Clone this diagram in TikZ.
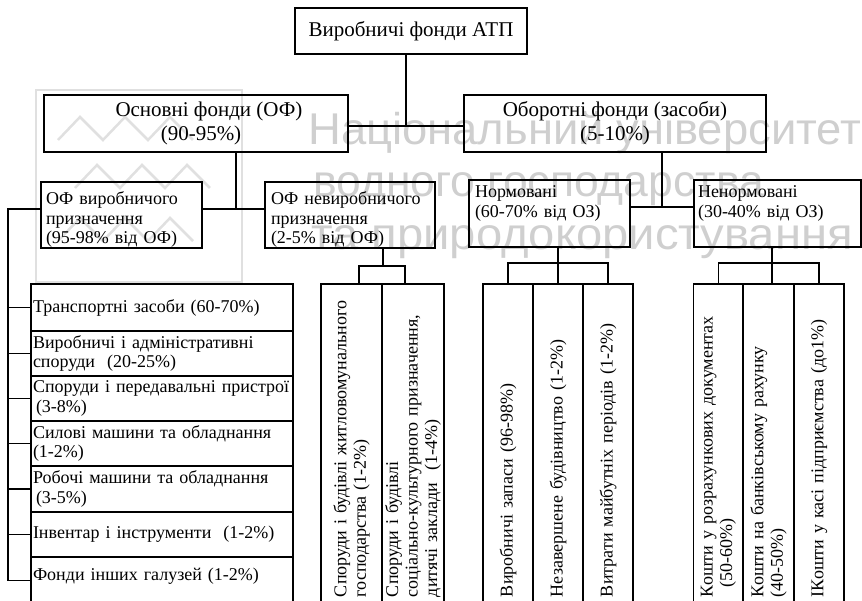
\documentclass[tikz,border=0pt]{standalone}
\usepackage{fontspec}
\setmainfont{Liberation Serif}
\newfontfamily\wmfont{Liberation Sans}
\usetikzlibrary{positioning}

\begin{document}
\begin{tikzpicture}[x=1pt, y=-1pt, semithick]
	\tikzstyle{box}=[draw, rectangle, line width=1.1pt, outer sep=0pt, inner sep=0pt]
	\tikzstyle{big}=[font=\fontsize{21}{24}\selectfont, align=center]
	\tikzstyle{small}=[font=\fontsize{18}{19.5}\selectfont, align=left]
	\tikzstyle{row}=[box, small, text width=258pt, inner xsep=2pt]
	\tikzstyle{col}=[box, small, rotate=90, text width=306pt, inner xsep=7pt]
	\tikzstyle{link}=[line width=1.8pt]
	\tikzstyle{wm}=[text=black!19, font=\wmfont\fontsize{44.5}{44.5}\selectfont, anchor=base west, inner sep=0pt, transform shape]
	\tikzstyle{wmline}=[draw=black!12, line width=2.5pt]
	\useasboundingbox (0,0) rectangle (862,601);

	% watermark
	\draw[wmline] (36,90) rectangle (242,282);
	\foreach \y/\x in {117/58, 165/75, 218/58}
		\draw[wmline] (\x,\y+23) -- (\x+22,\y) -- (\x+45,\y+23) -- (\x+67,\y) -- (\x+90,\y+23) -- (\x+112,\y) -- (\x+135,\y+23);
	\node[wm, xscale=1.02] (wm1) at (308,145) {Національний університет};
	\node[wm] (wm2) at (313,197) {водного господарства};
	\node[wm, xscale=1.06] (wm3) at (311,250) {та природокористування};

	\node[box, big, minimum width=232, minimum height=46, anchor=north west] (vf) at (295,8) {Виробничі фонди АТП};
	\node[box, big, minimum width=304, minimum height=57, anchor=north west] (of) at (44,95) {\hspace*{26pt}Основні фонди (ОФ)\\\hspace*{10pt}(90-95\%)};
	\node[box, big, minimum width=302, minimum height=57, anchor=north west] (obf) at (464,95) {Оборотні фонди (засоби)\\(5-10\%)};

	\node[box, small, text width=151pt, inner xsep=5pt, minimum height=66, text height=20pt, text depth=40pt, anchor=north west] (ofv) at (41,182) {ОФ виробничого\\призначення\\(95-98\% від ОФ)};
	\node[box, small, text width=158pt, inner xsep=6pt, minimum height=66, text height=20pt, text depth=40pt, anchor=north west] (ofn) at (265,182) {ОФ невиробничого\\призначення\\(2-5\% від ОФ)};
	\node[box, small, text width=149pt, inner xsep=6pt, minimum height=67, text height=12pt, text depth=43pt, anchor=north west] (norm) at (469,180) {Нормовані\\(60-70\% від ОЗ)};
	\node[box, small, text width=159pt, inner xsep=4pt, minimum height=67, text height=12pt, text depth=43pt, anchor=north west] (nenorm) at (694,180) {Ненормовані\\(30-40\% від ОЗ)};

	\node[row, minimum height=47, anchor=north west] (ts) at (31,284) {Транспортні засоби (60-70\%)};
	\node[row, minimum height=45, below=0pt of ts] (vas) {Виробничі і адміністративні\\споруди\ \ (20-25\%)};
	\node[row, minimum height=45, below=0pt of vas] (spp) {Споруди і передавальні пристрої\\\hspace*{3pt}(3-8\%)};
	\node[row, minimum height=45, below=0pt of spp] (smo) {Силові машини та обладнання\\(1-2\%)};
	\node[row, minimum height=46, below=0pt of smo] (rmo) {Робочі машини та обладнання\\\hspace*{3pt}(3-5\%)};
	\node[row, minimum height=45, below=0pt of rmo] (ii) {Інвентар і інструменти\ \ (1-2\%)};
	\node[row, minimum height=47, text height=13pt, text depth=14pt, below=0pt of ii] (fi) {Фонди інших галузей (1-2\%)};

	\node[col, minimum height=61] (soc1) at (351.5,444) {Споруди і будівлі житловомунального\\господарства (1-2\%)};
	\node[col, minimum height=62] (soc2) at (413,444) {Споруди і будівлі\\соціально-культурного призначення,\\дитячі заклади\ \ (1-4\%)};

	\node[col, minimum height=50] (nz1) at (508,444) {Виробничі запаси (96-98\%)};
	\node[col, minimum height=50] (nz2) at (558,444) {Незавершене будівництво (1-2\%)};
	\node[col, minimum height=50] (nz3) at (608,444) {Витрати майбутніх періодів (1-2\%)};

	\node[col, minimum height=50] (nn1) at (718.5,444) {Кошти у розрахункових документах\\\hspace*{10pt}(50-60\%)};
	\node[col, minimum height=51] (nn2) at (768.5,444) {Кошти на банківському рахунку\\(40-50\%)};
	\node[col, minimum height=50] (nn3) at (819,444) {ІКошти у касі підприємства (до1\%)};

	\coordinate (j1) at (406,126);
	\coordinate (j2) at (236,209);
	\coordinate (j3) at (662,207);
	\coordinate (lb) at (8,209);
	\coordinate (b1) at (383,266);
	\coordinate (b1l) at (359,266);
	\coordinate (b1r) at (405,266);
	\coordinate (b2) at (558,263);
	\coordinate (b3) at (772,263);

	\draw[link] (vf.south -| j1) -- (j1);
	\draw[link] (of.east |- j1) -- (obf.west |- j1);
	\draw[link] (of.south -| j2) -- (j2);
	\draw[link] (ofv.east |- j2) -- (ofn.west |- j2);
	\draw[link] (obf.south -| j3) -- (j3);
	\draw[link] (norm.east |- j3) -- (nenorm.west |- j3);

	\draw[link] (ofv.west |- lb) -- (lb) -- (lb |- fi.west);
	\foreach \n in {ts,vas,spp,smo,rmo,ii,fi}
		\draw[link] (lb |- \n.west) -- (\n.west);

	\draw[link] (ofn.south -| b1) -- (b1);
	\draw[link] (b1l |- soc1.east) -- (b1l) -- (b1r) -- (b1r |- soc1.east);
	\draw[link] (norm.south -| b2) -- (nz2.east);
	\draw[link] (nz1.east) -- (nz1.east |- b2) -- (nz3.east |- b2) -- (nz3.east);
	\draw[link] (nenorm.south -| b3) -- (b3 |- nn2.east);
	\draw[link] (nn1.east) -- (nn1.east |- b3) -- (nn3.east |- b3) -- (nn3.east);
\end{tikzpicture}
\end{document}
